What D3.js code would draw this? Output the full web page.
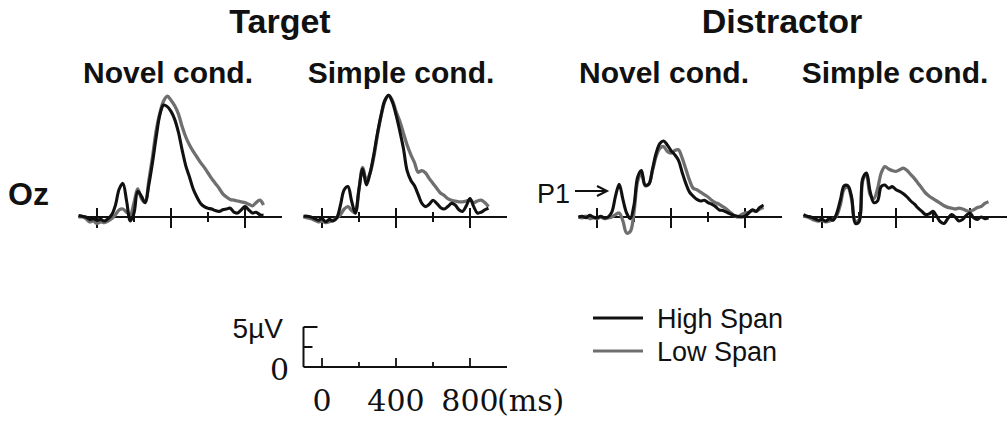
<!DOCTYPE html>
<html><head><meta charset="utf-8">
<script src="https://cdn.jsdelivr.net/npm/d3@7"></script>
<style>
html,body{margin:0;padding:0;background:#fff;}
svg{display:block;}
text{font-family:"Liberation Sans",Arial,sans-serif;fill:#111;}
</style></head>
<body>
<svg id="chart" width="1008" height="425"></svg>
<script>
// ---- data ----
const times = [-100,-80,-60,-40,-20,0,20,40,60,80,100,120,140,160,180,200,220,240,260,280,300,320,340,360,380,400,420,440,460,480,500,520,540,560,580,600,620,640,660,680,700,720,740,760,780,800,820,840,860,880,900];

const targetNovelHigh = [0.2,0.1,0.0,-0.3,-0.2,-0.4,-0.3,-0.5,-0.2,0.3,1.5,3.5,4.2,2.0,-0.5,0.5,3.2,2.6,1.8,4.0,6.8,10.0,12.8,14.0,13.8,13.2,12.2,10.6,8.4,6.4,5.0,3.5,2.5,1.7,1.3,1.1,1.0,0.8,0.7,0.9,1.0,1.1,0.6,0.5,0.9,1.3,0.9,0.5,0.6,0.3,0.2];
const targetNovelLow  = [0.0,0.0,-0.2,-0.6,-0.5,-0.8,-0.6,-0.7,-0.5,-0.2,0.3,0.9,1.0,0.6,0.3,1.8,3.5,2.3,1.8,4.5,7.5,10.8,13.0,14.5,15.1,14.6,13.9,12.9,11.3,10.0,9.0,8.2,7.5,6.8,6.2,5.5,4.8,4.2,3.6,2.9,2.5,2.2,2.1,2.0,1.9,1.8,1.6,1.4,1.8,2.1,1.5];

const targetSimpleHigh = [0.1,0.1,0.0,-0.2,-0.4,-0.2,-0.6,-0.3,-0.5,-0.1,1.5,3.4,3.8,2.0,0.5,3.5,6.0,4.0,5.5,7.8,10.5,12.8,14.6,15.2,14.4,12.8,10.8,8.6,5.8,4.6,3.9,2.8,1.7,1.3,1.6,2.1,1.7,1.2,1.0,1.3,1.7,1.5,0.9,0.7,1.4,2.3,1.3,0.5,0.6,0.9,1.1];
const targetSimpleLow  = [0.0,-0.1,-0.2,-0.4,-0.6,-0.5,-0.7,-0.6,-0.4,-0.1,0.3,1.0,1.3,0.8,0.5,3.5,6.2,4.6,5.5,7.5,10.3,12.7,14.5,15.2,14.6,13.2,12.0,10.5,9.0,7.8,6.8,5.6,5.8,5.5,4.8,4.2,3.6,3.0,2.7,2.3,2.1,2.0,1.9,1.9,2.0,2.1,1.8,2.0,2.1,1.8,1.3];

const distractorNovelHigh = [0.0,0.1,-0.1,0.2,0.0,-0.1,0.1,-0.1,0.0,0.6,2.6,4.1,2.2,0.5,-0.2,1.5,5.0,5.8,4.0,4.1,6.0,8.0,9.2,9.5,9.0,8.3,7.8,7.1,5.6,4.2,3.1,2.6,2.2,2.0,2.1,1.8,1.6,1.3,0.9,0.8,0.6,0.4,0.2,0.1,0.0,0.1,0.5,0.9,0.7,1.2,1.5];
const distractorNovelLow  = [0.0,-0.1,0.1,-0.2,-0.1,-0.2,0.0,-0.2,-0.1,0.0,0.3,0.5,-0.5,-2.0,-1.8,0.6,4.5,5.5,3.9,4.1,5.8,7.6,8.6,8.8,8.2,8.0,8.3,8.4,7.4,6.0,4.6,3.6,3.4,3.1,2.8,2.5,2.1,1.8,1.6,1.3,1.0,0.6,0.2,0.0,0.3,0.5,0.6,0.8,0.7,1.0,1.2];

const distractorSimpleHigh = [0.3,0.1,0.0,-0.2,-0.4,-0.3,-0.5,-0.2,-0.4,0.5,2.2,3.9,3.9,2.5,-0.8,-0.6,4.8,5.5,3.2,1.8,2.0,3.8,4.0,3.6,3.8,3.4,3.2,2.9,2.5,2.0,1.6,1.1,0.7,0.3,0.4,0.7,0.1,-0.6,-0.8,-0.2,0.3,0.0,-0.5,-0.3,0.2,0.5,-0.1,-0.3,0.0,-0.2,-0.1];
const distractorSimpleLow  = [0.1,0.0,-0.2,-0.4,-0.5,-0.4,-0.6,-0.5,-0.3,0.2,1.6,3.5,3.7,2.2,-0.5,-0.4,4.5,5.4,2.8,2.3,3.5,5.5,6.3,6.0,5.8,5.7,5.9,6.1,5.8,5.3,4.8,4.2,3.6,3.0,2.6,2.3,2.0,1.7,1.4,1.2,1.1,1.0,1.1,1.0,0.8,0.7,0.9,1.2,1.3,1.7,1.9];

const groupTitles = ["Target", "Distractor"];
const conditionTitles = ["Novel cond.", "Simple cond.", "Novel cond.", "Simple cond."];
const seriesNames = ["High Span", "Low Span"];
const timeTicks = [0, 200, 400, 600, 800];
const scaleTimeLabels = ["0", "400", "800"];
const scaleTimeLabelValues = [0, 400, 800];
const scaleVoltTicks = [0, 2.5, 5];

// ---- layout ----
const svg = d3.select("#chart");
const panelOrigins = [97, 322, 597, 822];   // x pixel of 0 ms
const baselineY = 217;
const pxPerMs = 0.185;
const pxPerUV = 8;
const colors = {high: "#111111", low: "#6f6f6f"};
const serif = "'DejaVu Serif', 'Liberation Serif', serif";

const panels = [
  {high: targetNovelHigh, low: targetNovelLow},
  {high: targetSimpleHigh, low: targetSimpleLow},
  {high: distractorNovelHigh, low: distractorNovelLow},
  {high: distractorSimpleHigh, low: distractorSimpleLow}
];

function makeX(x0) {
  return d3.scaleLinear().domain([-100, 1000]).range([x0 - 100 * pxPerMs, x0 + 1000 * pxPerMs]);
}
function makeY(y0) {
  return d3.scaleLinear().domain([0, 10]).range([y0, y0 - 10 * pxPerUV]);
}

panels.forEach((p, i) => {
  const x = makeX(panelOrigins[i]);
  const y = makeY(baselineY);
  const g = svg.append("g");
  g.append("line").attr("x1", x(-100)).attr("x2", x(1000))
    .attr("y1", y(0)).attr("y2", y(0)).attr("stroke", "#111").attr("stroke-width", 2.2);
  g.selectAll(".tk").data(timeTicks).join("line")
    .attr("x1", d => x(d)).attr("x2", d => x(d))
    .attr("y1", d => y(0) - (d % 400 === 0 ? 9 : 5))
    .attr("y2", d => y(0) + (d % 400 === 0 ? 11 : 5))
    .attr("stroke", "#111").attr("stroke-width", 2);
  const line = d3.line().x((d, k) => x(times[k])).y(d => y(d)).curve(d3.curveCatmullRom.alpha(0.5));
  g.append("path").attr("d", line(p.low)).attr("fill", "none")
    .attr("stroke", colors.low).attr("stroke-width", 3.3).attr("stroke-linejoin", "round");
  g.append("path").attr("d", line(p.high)).attr("fill", "none")
    .attr("stroke", colors.high).attr("stroke-width", 3.1).attr("stroke-linejoin", "round");
});

// ---- titles ----
const groupCenters = [280, 782];
svg.selectAll(".gt").data(groupTitles).join("text")
  .attr("x", (d, i) => groupCenters[i]).attr("y", 33)
  .attr("text-anchor", "middle").attr("font-size", 34).attr("font-weight", "bold").text(d => d);
const condCenters = [168, 401, 664, 895];
svg.selectAll(".ct").data(conditionTitles).join("text")
  .attr("x", (d, i) => condCenters[i]).attr("y", 83)
  .attr("text-anchor", "middle").attr("font-size", 30).attr("font-weight", "bold").text(d => d);

svg.append("text").attr("x", 8).attr("y", 205).attr("font-size", 32).attr("font-weight", "bold").text("Oz");

// P1 label with arrow
svg.append("text").attr("x", 537).attr("y", 203).attr("font-size", 27).text("P1");
svg.append("line").attr("x1", 575).attr("x2", 605).attr("y1", 191).attr("y2", 191)
  .attr("stroke", "#111").attr("stroke-width", 2);
svg.append("path").attr("d", "M597,186 L607,191 L597,196").attr("fill", "none")
  .attr("stroke", "#111").attr("stroke-width", 2);

// ---- scale bar ----
const sx = makeX(322);
const sy = makeY(367);
const sb = svg.append("g");
sb.append("line").attr("x1", sx(-100)).attr("x2", sx(1000)).attr("y1", sy(0)).attr("y2", sy(0))
  .attr("stroke", "#111").attr("stroke-width", 2);
sb.selectAll(".stk").data(timeTicks).join("line")
  .attr("x1", d => sx(d)).attr("x2", d => sx(d))
  .attr("y1", sy(0)).attr("y2", d => sy(0) - (d % 400 === 0 ? 9 : 5))
  .attr("stroke", "#111").attr("stroke-width", 1.8);
sb.append("line").attr("x1", sx(-100)).attr("x2", sx(-100)).attr("y1", sy(0)).attr("y2", sy(5))
  .attr("stroke", "#111").attr("stroke-width", 2);
sb.selectAll(".vtk").data(scaleVoltTicks.filter(d => d > 0)).join("line")
  .attr("x1", sx(-100)).attr("x2", d => sx(-100) + (d === 5 ? 14 : 9))
  .attr("y1", d => sy(d)).attr("y2", d => sy(d))
  .attr("stroke", "#111").attr("stroke-width", 2);
sb.append("text").attr("x", 283).attr("y", 338).attr("text-anchor", "end").attr("font-size", 28).text("5µV");
sb.append("text").attr("x", 289).attr("y", 380).attr("text-anchor", "end")
  .attr("font-size", 30).style("font-family", serif).text("0");
sb.selectAll(".sl").data(scaleTimeLabels).join("text")
  .attr("x", (d, i) => sx(scaleTimeLabelValues[i])).attr("y", 411)
  .attr("text-anchor", "middle").attr("font-size", 30).style("font-family", serif).text(d => d);
sb.append("text").attr("x", sx(800) + 27).attr("y", 411)
  .attr("font-size", 30).style("font-family", serif).text("(ms)");

// ---- legend ----
const lg = svg.append("g");
const legendY = [318, 351];
const legendColors = [colors.high, colors.low];
seriesNames.forEach((n, i) => {
  lg.append("line").attr("x1", 593).attr("x2", 643).attr("y1", legendY[i]).attr("y2", legendY[i])
    .attr("stroke", legendColors[i]).attr("stroke-width", 3.2);
  lg.append("text").attr("x", 657).attr("y", legendY[i] + 10).attr("font-size", 27).text(n);
});
</script>
</body></html>
